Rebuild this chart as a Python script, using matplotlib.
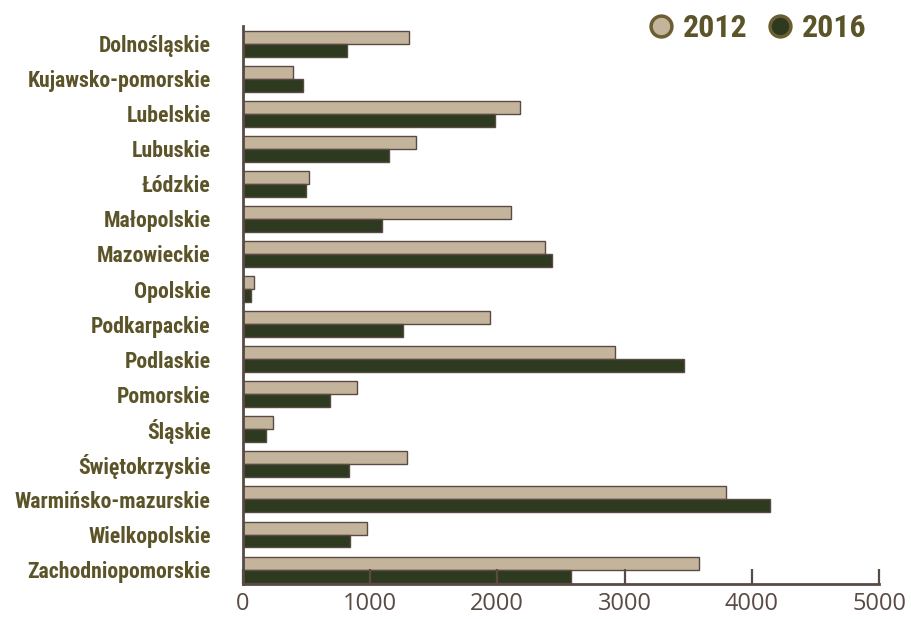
"""Horizontal bar chart of voivodeship values, 2012 vs 2016."""

import matplotlib
matplotlib.use("Agg")
import matplotlib.pyplot as plt
import numpy as np
from matplotlib.lines import Line2D

regions = [
    "Dolnośląskie", "Kujawsko-pomorskie", "Lubelskie", "Lubuskie", "Łódzkie",
    "Małopolskie", "Mazowieckie", "Opolskie", "Podkarpackie", "Podlaskie",
    "Pomorskie", "Śląskie", "Świętokrzyskie", "Warmińsko-mazurskie",
    "Wielkopolskie", "Zachodniopomorskie",
]
values_2012 = [1310, 393, 2178, 1360, 519, 2107, 2374, 86, 1942, 2925,
               896, 236, 1289, 3797, 975, 3585]
values_2016 = [818, 472, 1981, 1148, 495, 1093, 2429, 63, 1258, 3467,
               684, 181, 833, 4143, 841, 2579]
x_ticks = [0, 1000, 2000, 3000, 4000, 5000]

LABEL_FONT = ["Roboto Condensed", "DejaVu Sans"]
LABEL_COLOR = "#5c5429"
AXIS_COLOR = "#5a4a44"
C2012 = "#c5b49c"
C2016 = "#2e3a1f"

fig = plt.figure(figsize=(9.12, 6.19), dpi=100)
ax = fig.add_axes([0.266, 0.0566, 0.698, 0.9014])

y = np.arange(len(regions))
h = 0.37
ax.barh(y - h / 2, values_2012, height=h, color=C2012, edgecolor=AXIS_COLOR, linewidth=1.0)
ax.barh(y + h / 2, values_2016, height=h, color=C2016, edgecolor=AXIS_COLOR, linewidth=1.0)

ax.set_xlim(0, 5000)
ax.set_ylim(15.41, -0.5)
ax.set_yticks(y)
ax.set_yticklabels(regions, fontfamily=LABEL_FONT, fontweight="bold", fontsize=15.7, color=LABEL_COLOR)
ax.tick_params(axis="y", length=0, pad=23)
ax.set_xticks(x_ticks)
ax.set_xticklabels([str(t) for t in x_ticks], fontfamily="Open Sans", fontsize=17, color=AXIS_COLOR)
ax.tick_params(axis="x", direction="in", length=11, width=1.6, color=AXIS_COLOR, pad=6)

for side in ("top", "right"):
    ax.spines[side].set_visible(False)
for side in ("left", "bottom"):
    ax.spines[side].set_color(AXIS_COLOR)
    ax.spines[side].set_linewidth(2)

handles = [
    Line2D([], [], marker="o", linestyle="none", markersize=15, markerfacecolor=C2012,
           markeredgecolor="#6b5e32", markeredgewidth=2.5, label="2012"),
    Line2D([], [], marker="o", linestyle="none", markersize=15, markerfacecolor=C2016,
           markeredgecolor="#6b5e32", markeredgewidth=2.5, label="2016"),
]
leg = fig.legend(handles=handles, loc="upper right", bbox_to_anchor=(0.982, 1.025), ncol=2,
                 frameon=False, handlelength=0.8, handletextpad=0.3, columnspacing=0.6,
                 prop={"family": LABEL_FONT, "weight": "bold", "size": 23})
for t in leg.get_texts():
    t.set_color(LABEL_COLOR)

fig.savefig("out.png", dpi=100)
